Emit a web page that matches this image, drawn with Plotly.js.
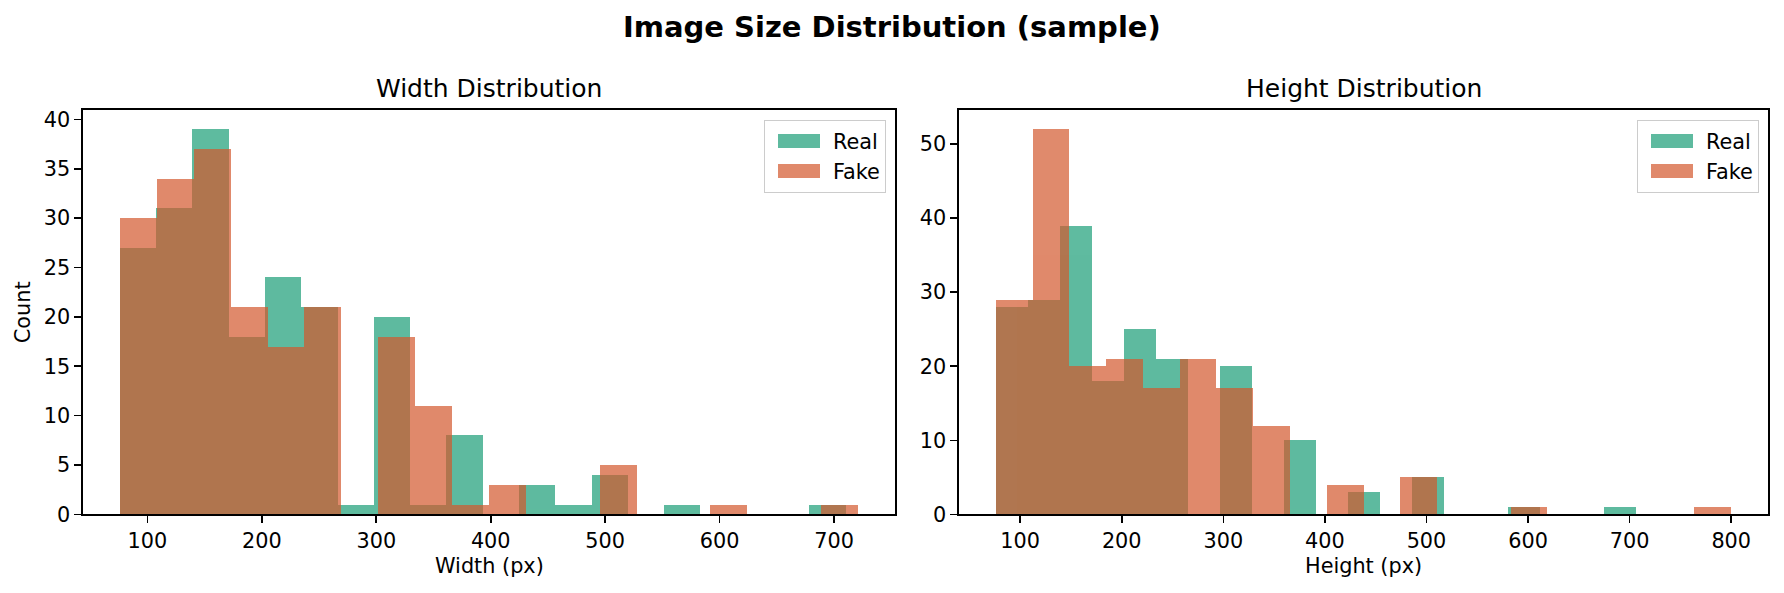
<!DOCTYPE html>
<html>
<head>
<meta charset="utf-8">
<script src="https://cdn.plot.ly/plotly-3.0.1.min.js"></script>
<style>
  html, body { margin: 0; padding: 0; background: #ffffff; }
  #chart { width: 1784px; height: 593px; }
  #chart .barlayer path { shape-rendering: crispEdges; }
</style>
</head>
<body>
<div id="chart"></div>
<script>
// ---------- data (histogram bins: start, bin size, counts) ----------
const widthRealStart = 76;   const widthRealBin = 31.7;
const widthFakeStart = 76;   const widthFakeBin = 32.25;
const widthRealCounts = [27, 31, 39, 18, 24, 21, 1, 20, 1, 8, 0, 3, 1, 4, 0, 1, 0, 0, 0, 1];
const widthFakeCounts = [30, 34, 37, 21, 17, 21, 0, 18, 11, 1, 3, 0, 0, 5, 0, 0, 1, 0, 0, 1];

const heightRealStart = 76;  const heightRealBin = 31.5;
const heightFakeStart = 76;  const heightFakeBin = 36.2;
const heightRealCounts = [28, 29, 39, 18, 25, 21, 0, 20, 0, 10, 0, 3, 0, 5, 0, 0, 1, 0, 0, 1];
const heightFakeCounts = [29, 52, 20, 21, 17, 21, 17, 12, 0, 4, 0, 5, 0, 0, 1, 0, 0, 0, 0, 1];

const seriesNames = ['Real', 'Fake'];
const widthTicks  = [100, 200, 300, 400, 500, 600, 700];
const heightTicks = [100, 200, 300, 400, 500, 600, 700, 800];
const widthCountTicks  = [0, 5, 10, 15, 20, 25, 30, 35, 40];
const heightCountTicks = [0, 10, 20, 30, 40, 50];

// ---------- styling ----------
const FONT = 'DejaVu Sans, Verdana, sans-serif';
const realColor = '#1b9e77';
const fakeColor = '#d3582d';
const W = 1784, H = 593;

function centers(start, size, counts) {
  return counts.map((_, i) => start + size * (i + 0.5));
}

function barTrace(name, start, size, counts, color, xa, ya, leg, showLegend) {
  return {
    type: 'bar', name: name,
    x: centers(start, size, counts), y: counts, width: size,
    marker: { color: color, line: { width: 0 } },
    opacity: 0.7,
    xaxis: xa, yaxis: ya, legend: leg, showlegend: showLegend,
    hoverinfo: 'skip'
  };
}

const traces = [
  barTrace(seriesNames[0], widthRealStart, widthRealBin, widthRealCounts, realColor, 'x', 'y', 'legend', true),
  barTrace(seriesNames[1], widthFakeStart, widthFakeBin, widthFakeCounts, fakeColor, 'x', 'y', 'legend', true),
  barTrace(seriesNames[0], heightRealStart, heightRealBin, heightRealCounts, realColor, 'x2', 'y2', 'legend2', true),
  barTrace(seriesNames[1], heightFakeStart, heightFakeBin, heightFakeCounts, fakeColor, 'x2', 'y2', 'legend2', true)
];

// axes in pixels
const ax1 = { l: 83, r: 895 };
const ax2 = { l: 959, r: 1768 };
const axTop = 110, axBottom = 514.4;

function px2x(p) { return p / W; }
function px2y(p) { return 1 - p / H; }

const axisCommon = {
  showgrid: false, zeroline: false,
  showline: true, mirror: true, linecolor: '#000000', linewidth: 1.6,
  ticks: 'outside', ticklen: 7, tickwidth: 1.6, tickcolor: '#000000',
  tickfont: { family: FONT, size: 20.8, color: '#000000' },
  fixedrange: true, automargin: false
};

function extent(start, size, counts) { return [start, start + size * counts.length]; }
function padRange(lo, hi) { const d = hi - lo; return [lo - 0.05 * d, hi + 0.05 * d]; }

const wr = extent(widthRealStart, widthRealBin, widthRealCounts);
const wf = extent(widthFakeStart, widthFakeBin, widthFakeCounts);
const hr = extent(heightRealStart, heightRealBin, heightRealCounts);
const hf = extent(heightFakeStart, heightFakeBin, heightFakeCounts);
const xRange1 = padRange(Math.min(wr[0], wf[0]), Math.max(wr[1], wf[1]));
const xRange2 = padRange(Math.min(hr[0], hf[0]), Math.max(hr[1], hf[1]));
const yMax1 = Math.max(...widthRealCounts, ...widthFakeCounts) * 1.05;
const yMax2 = Math.max(...heightRealCounts, ...heightFakeCounts) * 1.05;

const legendCommon = {
  bgcolor: 'rgba(255,255,255,0.8)', bordercolor: '#cccccc', borderwidth: 1,
  font: { family: FONT, size: 20.8, color: '#000000' },
  xanchor: 'right', yanchor: 'top', tracegroupgap: 2, itemwidth: 58
};

const layout = {
  width: W, height: H,
  margin: { l: 0, r: 0, t: 0, b: 0, pad: 0 },
  paper_bgcolor: '#ffffff', plot_bgcolor: '#ffffff',
  barmode: 'overlay',
  font: { family: FONT, color: '#000000' },
  xaxis: Object.assign({}, axisCommon, {
    domain: [px2x(ax1.l), px2x(ax1.r)], anchor: 'y',
    range: xRange1, tickmode: 'array', tickvals: widthTicks, ticktext: widthTicks.map(String)
  }),
  yaxis: Object.assign({}, axisCommon, {
    domain: [px2y(axBottom), px2y(axTop)], anchor: 'x',
    range: [0, yMax1], tickmode: 'array', tickvals: widthCountTicks, ticktext: widthCountTicks.map(String)
  }),
  xaxis2: Object.assign({}, axisCommon, {
    domain: [px2x(ax2.l), px2x(ax2.r)], anchor: 'y2',
    range: xRange2, tickmode: 'array', tickvals: heightTicks, ticktext: heightTicks.map(String)
  }),
  yaxis2: Object.assign({}, axisCommon, {
    domain: [px2y(axBottom), px2y(axTop)], anchor: 'x2',
    range: [0, yMax2], tickmode: 'array', tickvals: heightCountTicks, ticktext: heightCountTicks.map(String)
  }),
  legend: Object.assign({}, legendCommon, { x: px2x(ax1.r - 9), y: px2y(axTop + 10) }),
  legend2: Object.assign({}, legendCommon, { x: px2x(ax2.r - 9), y: px2y(axTop + 10) }),
  annotations: [
    { text: '<b>Image Size Distribution (sample)</b>', xref: 'paper', yref: 'paper',
      x: 0.5, y: px2y(27), xanchor: 'center', yanchor: 'middle', showarrow: false,
      font: { family: FONT, size: 29, color: '#000000' } },
    { text: 'Width Distribution', xref: 'paper', yref: 'paper',
      x: px2x((ax1.l + ax1.r) / 2), y: px2y(88), xanchor: 'center', yanchor: 'middle', showarrow: false,
      font: { family: FONT, size: 25, color: '#000000' } },
    { text: 'Height Distribution', xref: 'paper', yref: 'paper',
      x: px2x((ax2.l + ax2.r) / 2), y: px2y(88), xanchor: 'center', yanchor: 'middle', showarrow: false,
      font: { family: FONT, size: 25, color: '#000000' } },
    { text: 'Width (px)', xref: 'paper', yref: 'paper',
      x: px2x((ax1.l + ax1.r) / 2), y: px2y(566), xanchor: 'center', yanchor: 'middle', showarrow: false,
      font: { family: FONT, size: 20.8, color: '#000000' } },
    { text: 'Height (px)', xref: 'paper', yref: 'paper',
      x: px2x((ax2.l + ax2.r) / 2), y: px2y(566), xanchor: 'center', yanchor: 'middle', showarrow: false,
      font: { family: FONT, size: 20.8, color: '#000000' } },
    { text: 'Count', xref: 'paper', yref: 'paper', textangle: -90,
      x: px2x(23), y: px2y((axTop + axBottom) / 2), xanchor: 'center', yanchor: 'middle', showarrow: false,
      font: { family: FONT, size: 20.8, color: '#000000' } }
  ]
};

Plotly.newPlot('chart', traces, layout, { staticPlot: true, displayModeBar: false }).then(function (gd) {
  // widen legend swatches to matplotlib-like proportions (2em x 0.7em)
  gd.querySelectorAll('.legendpoints path').forEach(function (p) {
    p.setAttribute('d', 'M-21,7H21V-7H-21Z');
  });
});
</script>
</body>
</html>
